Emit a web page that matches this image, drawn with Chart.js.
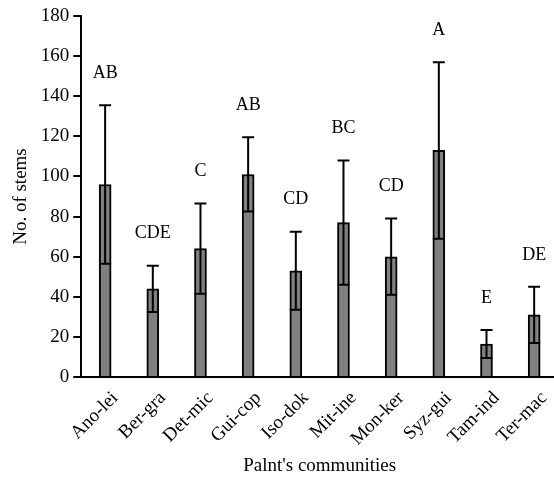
<!DOCTYPE html>
<html>
<head>
<meta charset="utf-8">
<script src="https://cdn.jsdelivr.net/npm/chart.js@4"></script>
<style>
  html, body { margin: 0; padding: 0; background: #fff; overflow: hidden; }
  /* axis runs slightly past the right edge, as in the original figure */
  #wrap { width: 558px; height: 481px; }
</style>
</head>
<body>
<div id="wrap"><canvas id="stems"></canvas></div>
<script>
const communities = ["Ano-lei", "Ber-gra", "Det-mic", "Gui-cop", "Iso-dok", "Mit-ine", "Mon-ker", "Syz-gui", "Tam-ind", "Ter-mac"];
const meanStems = [96, 44, 64, 101, 53, 77, 60, 113, 16.5, 31];
const sdStems = [39.5, 11.5, 22.5, 18.5, 19.5, 31, 19, 44, 7, 14];
const groupLetters = ["AB", "CDE", "C", "AB", "CD", "BC", "CD", "A", "E", "DE"];
const yTicks = [0, 20, 40, 60, 80, 100, 120, 140, 160, 180];

const serif = "'Liberation Serif', 'Times New Roman', serif";

// error bars (caps on both ends) + significance letters
const errorBars = {
    id: "errorBars",
    afterDatasetsDraw(chart) {
        const ctx = chart.ctx;
        const y = chart.scales.y;
        const meta = chart.getDatasetMeta(0);
        ctx.save();
        ctx.strokeStyle = "#000";
        ctx.lineWidth = 2;
        meta.data.forEach((bar, i) => {
            const x = bar.x;
            const half = bar.width / 2;
            const top = y.getPixelForValue(meanStems[i] + sdStems[i]);
            const low = y.getPixelForValue(meanStems[i] - sdStems[i]);
            ctx.beginPath();
            ctx.moveTo(x, top); ctx.lineTo(x, low);
            ctx.moveTo(x - half, top); ctx.lineTo(x + half, top);
            ctx.moveTo(x - half, low); ctx.lineTo(x + half, low);
            ctx.stroke();

            ctx.fillStyle = "#000";
            ctx.font = "18px " + serif;
            ctx.textAlign = "center";
            ctx.textBaseline = "middle";
            ctx.fillText(groupLetters[i], x, top - 32);
        });
        ctx.restore();
    }
};

new Chart(document.getElementById("stems"), {
    type: "bar",
    data: {
        labels: communities,
        datasets: [{
            data: meanStems,
            backgroundColor: "#808080",
            borderColor: "#000",
            borderWidth: 2,
            barThickness: 12,
        }],
    },
    options: {
        responsive: true,
        maintainAspectRatio: false,
        animation: false,
        layout: { padding: { top: 16, right: 0, left: 6, bottom: 0 } },
        plugins: {
            legend: { display: false },
            tooltip: { enabled: false },
        },
        scales: {
            x: {
                grid: { display: false },
                border: { display: true, color: "#000", width: 2 },
                ticks: {
                    color: "#000",
                    font: { family: serif, size: 19 },
                    maxRotation: 45,
                    minRotation: 45,
                    labelOffset: 10,
                    padding: 2,
                },
                title: {
                    display: true,
                    text: "Palnt's communities",
                    color: "#000",
                    font: { family: serif, size: 19 },
                    padding: { top: 2 },
                },
            },
            y: {
                min: 0,
                max: 180,
                afterBuildTicks: axis => { axis.ticks = yTicks.map(v => ({ value: v })); },
                grid: {
                    drawOnChartArea: false,
                    drawTicks: true,
                    tickLength: 8,
                    color: "#000",
                    lineWidth: 2,
                },
                border: { display: true, color: "#000", width: 2 },
                ticks: {
                    color: "#000",
                    font: { family: serif, size: 19 },
                    padding: 4,
                },
                title: {
                    display: true,
                    text: "No. of stems",
                    color: "#000",
                    font: { family: serif, size: 19 },
                    padding: { bottom: 4 },
                },
            },
        },
    },
    plugins: [errorBars],
});
</script>
</body>
</html>
